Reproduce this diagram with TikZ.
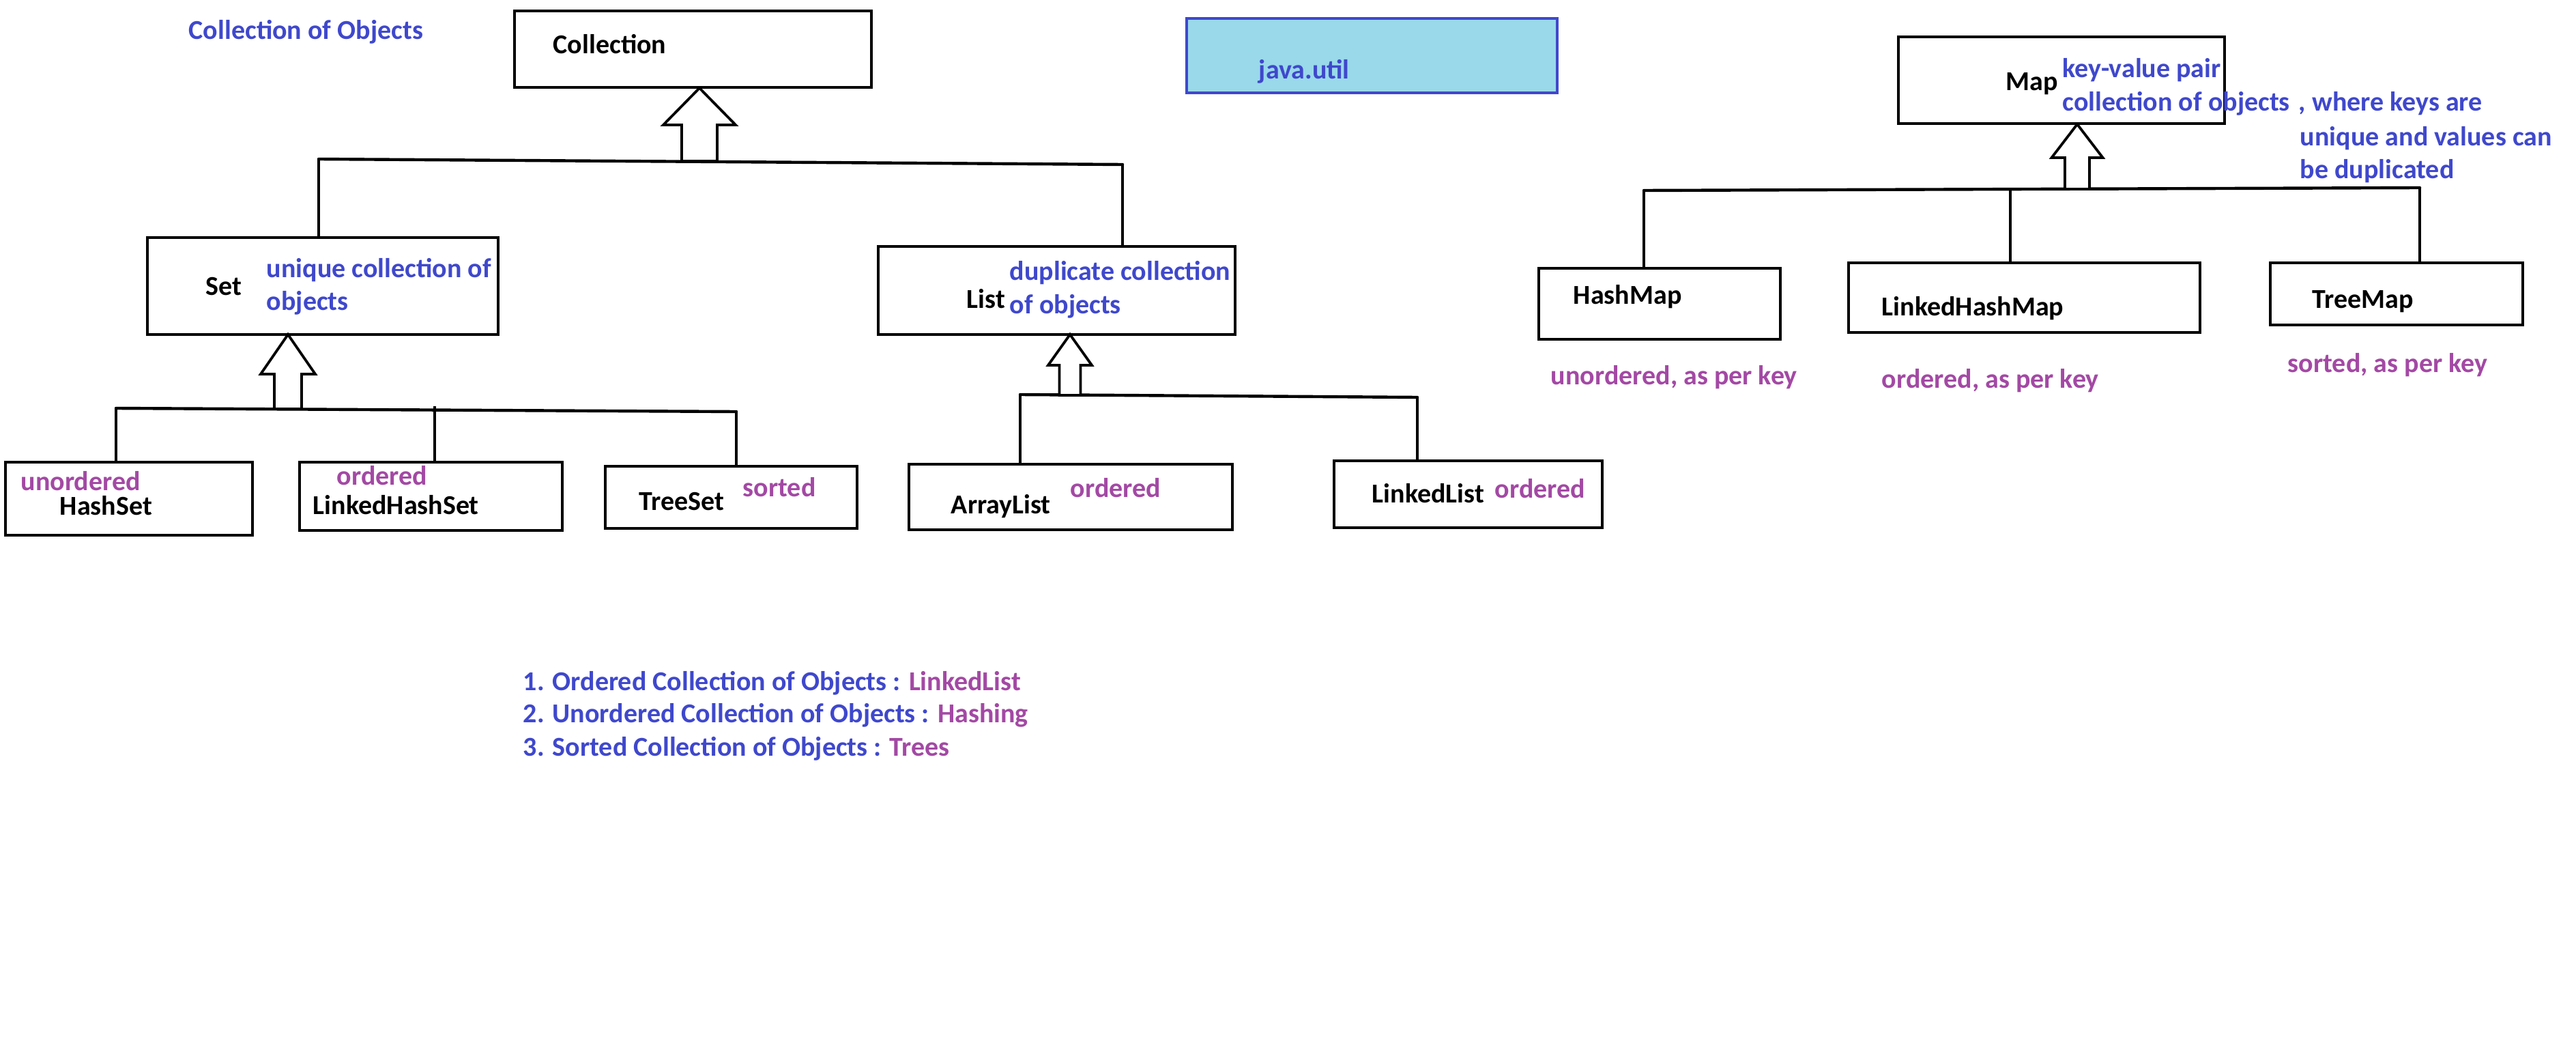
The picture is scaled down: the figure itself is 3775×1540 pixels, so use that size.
\documentclass[tikz,border=0pt]{standalone}
\usepackage{fontspec}
\setmainfont{Carlito}
\usetikzlibrary{calc}
\definecolor{pblue}{HTML}{3F48CC}
\definecolor{ppurple}{HTML}{A349A4}
\definecolor{plight}{HTML}{99D9EA}
\tikzset{
  boxst/.style={draw=black, line width=1.15pt, inner sep=0pt, fill=white},
  jbox/.style={draw=pblue, fill=plight, line width=1.15pt, inner sep=0pt},
  txt/.style={inner sep=0pt, anchor=base west, font=\fontsize{10}{12}\selectfont\bfseries},
  bl/.style={txt, text=pblue},
  pu/.style={txt, text=ppurple},
  bk/.style={txt, text=black},
  bus/.style={line width=1.1pt, line cap=round},
  vline/.style={line width=0.95pt},
  harrow/.style={draw=black, fill=white, line width=0.95pt, line join=miter},
}
\newcommand\bx[6][boxst]{\node[#1, minimum width={(#4-#2)*0.25pt}, minimum height={(#5-#3)*0.25pt}] (#6) at ({(#2+#4)/2},{(#3+#5)/2}) {};}
\newcommand\uparr[5]{\draw[harrow, shift={(#1)}] (-#2,0) -- (-#2,-#4) -- (-#3,-#4) -- (0,-#5) -- (#3,-#4) -- (#2,-#4) -- (#2,0) -- cycle;}
\begin{document}
\begin{tikzpicture}[x=0.25pt,y=-0.25pt]
\fill[white] (0,0) rectangle (3775,1540);
\useasboundingbox (0,0) rectangle (3775,1540);

% ---- boxes
\bx{754}{16}{1277}{128}{coll}
\bx[jbox]{1739}{27}{2282}{136}{jutil}
\bx{216}{348}{730}{490}{set}
\bx{1287}{361}{1810}{490}{list}
\bx{8}{677}{370}{784}{hashset}
\bx{439}{677}{824}{777}{lhset}
\bx{887}{683}{1256}{774}{treeset}
\bx{1332}{680}{1806}{776}{arraylist}
\bx{1955}{675}{2348}{773}{linkedlist}
\bx{2782}{54}{3260}{181}{map}
\bx{2255}{393}{2609}{497}{hashmap}
\bx{2709}{385}{3224}{487}{lhmap}
\bx{3327}{385}{3697}{476}{treemap}

% ---- Collection tree
\coordinate (cb1) at (467,233);
\coordinate (cb2) at (1645,241);
\coordinate (cba) at (1025,236);
\draw[bus] (cb1) -- (cb2);
\draw[vline] (cb1) -- (cb1 |- set.north);
\draw[vline] (cb2) -- (cb2 |- list.north);
\uparr{cba}{26}{53}{53}{107}

% ---- Set tree
\coordinate (sb1) at (170,598);
\coordinate (sb2) at (1079,603);
\coordinate (sbm) at (637,595);
\coordinate (sba) at (422,599);
\draw[bus] (sb1) -- (sb2);
\draw[vline] (sb1) -- (sb1 |- hashset.north);
\draw[vline] (sbm) -- (sbm |- lhset.north);
\draw[vline] (sb2) -- (sb2 |- treeset.north);
\uparr{sba}{20}{40}{51}{109}

% ---- List tree
\coordinate (lb1) at (1495,578);
\coordinate (lb2) at (2077,582);
\coordinate (lba) at (1568,579);
\draw[bus] (lb1) -- (lb2);
\draw[vline] (lb1) -- (lb1 |- arraylist.north);
\draw[vline] (lb2) -- (lb2 |- linkedlist.north);
\uparr{lba}{15.5}{32}{44}{89}

% ---- Map tree
\coordinate (mb1) at (2409,279);
\coordinate (mb2) at (3546,275);
\coordinate (mbm) at (2946,277);
\coordinate (mba) at (3044,277);
\draw[bus] (mb1) -- (mb2);
\draw[vline] (mb1) -- (mb1 |- hashmap.north);
\draw[vline] (mbm) -- (mbm |- lhmap.north);
\draw[vline] (mb2) -- (mb2 |- treemap.north);
\uparr{mba}{18}{37.5}{46}{95}

% ---- texts
\node[bl] (tcoo) at (276,58) {Collection of Objects};
\node[bk] (tcoll) at (810,79) {Collection};
\node[bl] (tjava) at (1844,116) {java.util};
\node[bk] (tset) at (301,433) {Set};
\node[bl] (tset1) at (390,407) {unique collection of};
\node[bl] (tset2) at (390,455) {objects};
\node[bk] (tlist) at (1416,452) {List};
\node[bl] (tlist1) at (1479,411) {duplicate collection};
\node[bl] (tlist2) at (1479,459) {of objects};
\node[pu] (ths1) at (30,718) {unordered};
\node[bk] (ths2) at (87,754) {HashSet};
\node[pu] (tlhs1) at (493,710) {ordered};
\node[bk] (tlhs2) at (458,753) {LinkedHashSet};
\node[bk] (tts1) at (936,747) {TreeSet};
\node[pu] (tts2) at (1088,727) {sorted};
\node[bk] (tal1) at (1393,752) {ArrayList};
\node[pu] (tal2) at (1568,728) {ordered};
\node[bk] (tll1) at (2010,736) {LinkedList};
\node[pu] (tll2) at (2190,729) {ordered};

\node[bk] (tmap) at (2939,133) {Map};
\node[bl] (tmap1) at (3022,114) {key-value pair};
\node[bl] (tmap2) at (3022,163) {collection of objects};
\node[bl] (tmap3) at (3368,163) {, where keys are};
\node[bl] (tmap4) at (3370,214) {unique and values can};
\node[bl] (tmap5) at (3370,262) {be duplicated};
\node[bk] (thm1) at (2305,445) {HashMap};
\node[pu] (thm2) at (2272,563) {unordered, as per key};
\node[bk] (tlhm1) at (2757,463) {LinkedHashMap};
\node[pu] (tlhm2) at (2757,568) {ordered, as per key};
\node[bk] (ttm1) at (3388,452) {TreeMap};
\node[pu] (ttm2) at (3352,545) {sorted, as per key};

\node[bl] (tn1) at (766,1011) {1. Ordered Collection of Objects : \textcolor{ppurple}{LinkedList}};
\node[bl] (tn2) at (766,1058) {2. Unordered Collection of Objects : \textcolor{ppurple}{Hashing}};
\node[bl] (tn3) at (766,1107) {3. Sorted Collection of Objects : \textcolor{ppurple}{Trees}};
\end{tikzpicture}
\end{document}
